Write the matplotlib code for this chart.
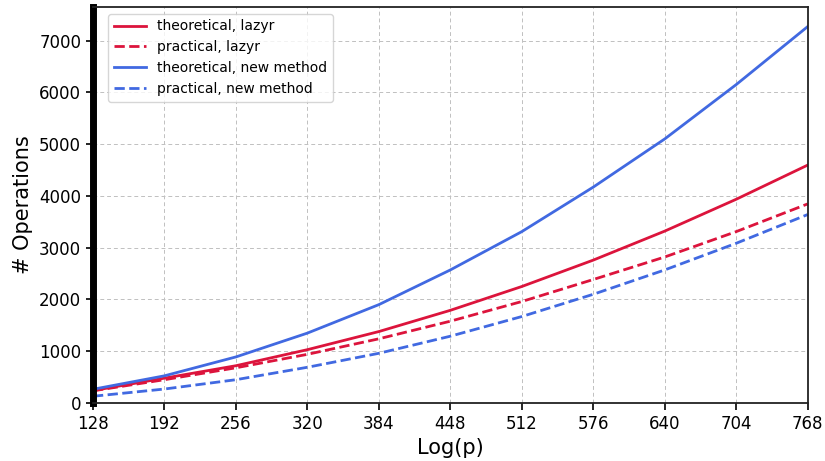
import matplotlib
matplotlib.use("Agg")
import matplotlib.pyplot as plt

log_p = [128, 192, 256, 320, 384, 448, 512, 576, 640, 704, 768]
theoretical_lazyr = [240, 480, 720, 1030, 1380, 1790, 2250, 2760, 3320, 3935, 4595]
practical_lazyr = [235, 450, 680, 940, 1240, 1580, 1960, 2385, 2820, 3310, 3845]
theoretical_new = [265, 525, 890, 1350, 1900, 2570, 3310, 4170, 5100, 6150, 7270]
practical_new = [130, 270, 450, 690, 960, 1290, 1670, 2100, 2570, 3085, 3640]
xticks = [128, 192, 256, 320, 384, 448, 512, 576, 640, 704, 768]

red = "#dc143c"
blue = "#4169e1"

fig = plt.figure(figsize=(8.25, 4.61), dpi=100)
ax = fig.add_axes([0.1127, 0.1258, 0.979 - 0.1127, 0.985 - 0.1258])

ax.plot(log_p, theoretical_lazyr, color=red, lw=2, ls="-", label="theoretical, lazyr")
ax.plot(log_p, practical_lazyr, color=red, lw=2, ls="--", label="practical, lazyr")
ax.plot(log_p, theoretical_new, color=blue, lw=2, ls="-", label="theoretical, new method")
ax.plot(log_p, practical_new, color=blue, lw=2, ls="--", label="practical, new method")

ax.set_xlim(128, 768)
ax.set_ylim(0, 7650)
ax.set_xticks(xticks)
ax.set_yticks([0, 1000, 2000, 3000, 4000, 5000, 6000, 7000])
ax.tick_params(labelsize=12, length=5, width=1.2)
ax.set_xlabel("Log(p)", fontsize=15)
ax.set_ylabel("# Operations", fontsize=15)
ax.grid(True, ls=(0, (4, 3)), color="#c0c0c0", lw=0.7)
for s in ["top", "right", "bottom"]:
    ax.spines[s].set_color("#222222")
    ax.spines[s].set_linewidth(1.3)
ax.spines["left"].set_color("black")
ax.spines["left"].set_linewidth(5)

ax.legend(loc="upper left", bbox_to_anchor=(0.012, 1.0), fontsize=10,
          framealpha=0.8, handlelength=2.3)

fig.savefig("out.png", dpi=100)
